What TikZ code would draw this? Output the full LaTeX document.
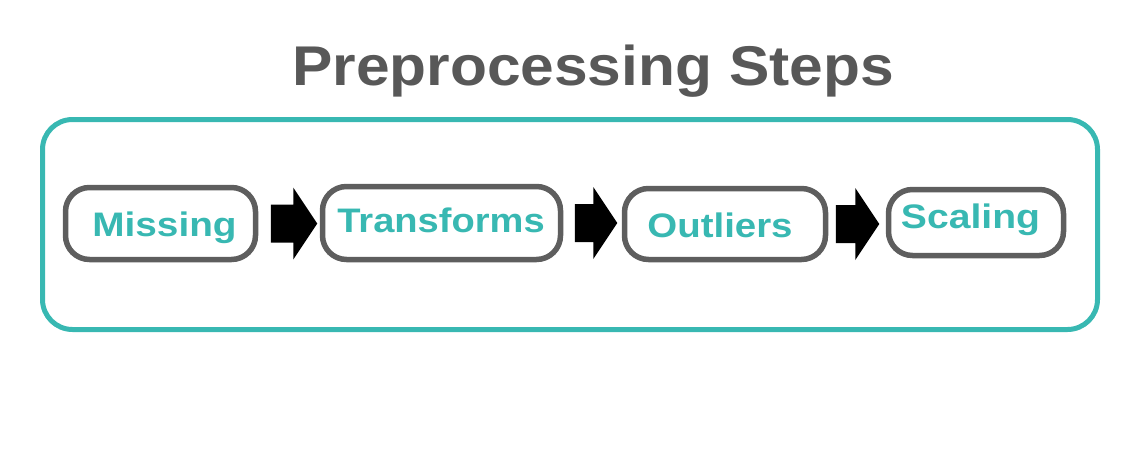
\documentclass[tikz,border=0pt]{standalone}
\usepackage{fontspec}
\setmainfont{Liberation Sans}
\usetikzlibrary{calc}
\definecolor{teal1}{HTML}{38B8B2}
\definecolor{gray1}{HTML}{5E5E5E}
\definecolor{titlegray}{HTML}{585858}
\tikzset{
  stepbox/.style={draw=gray1, line width=5.5pt, rounded corners=24pt, fill=white, inner sep=0pt},
  steptext/.style={text=teal1, font=\fontsize{34}{38}\selectfont\bfseries, anchor=base, inner sep=0pt},
  frame/.style={draw=teal1, line width=5pt, rounded corners=30pt},
}
\newcommand\blkarrow[4]{%
  \fill[black] let \p1=(#1.east), \p2=(#2.west),
      \n1={\x1+#3pt}, \n2={\x2-#4pt}, \n3={\n2-24pt} in
    (\n1,\y1+19pt) -- (\n3,\y1+19pt) -- (\n3,\y1+36pt) -- (\n2,\y1)
    -- (\n3,\y1-36pt) -- (\n3,\y1-19pt) -- (\n1,\y1-19pt) -- cycle;}
\begin{document}
\begin{tikzpicture}[x=1pt,y=-1pt]
\useasboundingbox (0,0) rectangle (1133,475);
\node[text=titlegray, font=\fontsize{56}{62}\selectfont\bfseries, anchor=base, inner sep=0pt] (title) at (593,85) {\scalebox{1.08}[1]{Preprocessing Steps}};
\draw[frame] (42.5,119.5) rectangle (1097.5,329.5);
\node[stepbox, minimum width=190pt, minimum height=72pt] (m) at (160.5,223.5) {};
\node[stepbox, minimum width=238pt, minimum height=73pt] (t) at (441.5,223) {};
\node[stepbox, minimum width=201pt, minimum height=71pt] (o) at (725,224) {};
\node[stepbox, minimum width=175pt, minimum height=66pt] (s) at (976,222.5) {};
\node[steptext] (mt) at (164.5,236) {\scalebox{1.14}[1]{Missing}};
\node[steptext] (tt) at (441,232) {\scalebox{1.12}[1]{Transforms}};
\node[steptext] (ot) at (720,237.5) {\scalebox{1.13}[1]{Outliers}};
\node[steptext] (st) at (970.5,228) {\scalebox{1.15}[1]{Scaling}};
\blkarrow{m}{t}{12.5}{2.5}
\blkarrow{t}{o}{11.5}{4.5}
\blkarrow{o}{s}{7.5}{6.5}
\end{tikzpicture}
\end{document}
